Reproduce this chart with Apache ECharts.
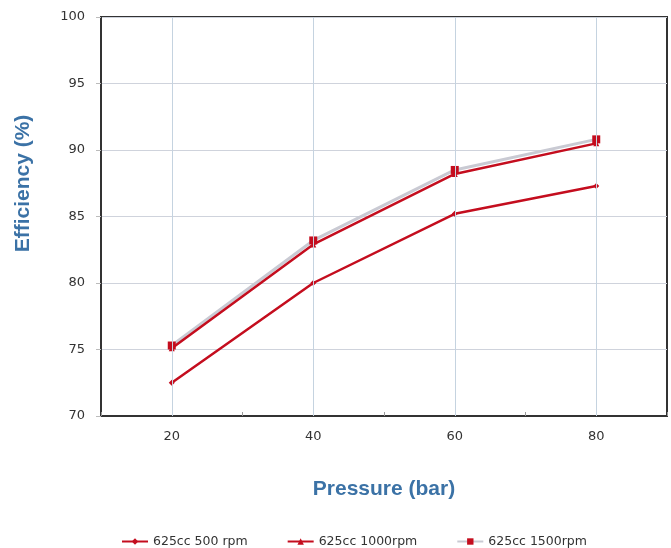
<!DOCTYPE html>
<html>
<head>
<meta charset="utf-8">
<script src="https://cdn.jsdelivr.net/npm/echarts@6/dist/echarts.min.js"></script>
<style>html,body{margin:0;padding:0;background:#fff;}#c{width:671px;height:548px;}</style>
</head>
<body>
<div id="c"></div>
<script>
const pressure = [20, 40, 60, 80];
const rpm500 = [72.5, 80.0, 85.2, 87.3];
const rpm1000 = [75.1, 82.9, 88.2, 90.5];
const rpm1500 = [75.3, 83.2, 88.5, 90.8];
const seriesNames = ['625cc 500 rpm', '625cc 1000rpm', '625cc 1500rpm'];
const xLabels = [20, 40, 60, 80];

const pairs = arr => pressure.map((p, i) => [p, arr[i]]);
const red = '#c40d1e';
const blue = '#3b72a6';

const chart = echarts.init(document.getElementById('c'));
chart.setOption({
  animation: false,
  grid: { left: 101, top: 17, right: 4, bottom: 132, show: true, borderColor: '#333', borderWidth: 2,
    backgroundColor: 'transparent', containLabel: false, outerBoundsMode: 'none' },
  xAxis: {
    type: 'value', min: 10, max: 90, interval: 10,
    name: 'Pressure (bar)', nameLocation: 'middle', nameGap: 63,
    nameTextStyle: { color: blue, fontSize: 21, fontWeight: 'bold', fontFamily: 'Liberation Sans' },
    axisLine: { show: true, lineStyle: { color: '#333', width: 2 } },
    axisTick: { show: true, inside: true, length: 4, lineStyle: { color: '#999' } },
    axisLabel: { color: '#333', fontSize: 13, fontFamily: 'DejaVu Sans', margin: 14,
      formatter: v => xLabels.indexOf(v) >= 0 ? String(v) : '' },
    splitLine: { show: false }
  },
  yAxis: {
    type: 'value', min: 70, max: 100, interval: 5,
    name: 'Efficiency (%)', nameLocation: 'middle', nameGap: 67, nameRotate: 90,
    nameTextStyle: { color: blue, fontSize: 21, fontWeight: 'bold', fontFamily: 'Liberation Sans', padding: [0, 0, 0, 66] },
    axisLine: { show: true, lineStyle: { color: '#333', width: 2 } },
    axisTick: { show: true, length: 5, lineStyle: { color: '#bbb' } },
    axisLabel: { color: '#333', fontSize: 13, fontFamily: 'DejaVu Sans', margin: 16 },
    splitLine: { show: true, lineStyle: { color: '#cfd3dc', width: 1 } }
  },
  legend: {
    top: 530, left: 116, itemGap: 39, itemWidth: 26, itemHeight: 8,
    data: seriesNames,
    textStyle: { color: '#333', fontSize: 12.5, fontFamily: 'DejaVu Sans' }
  },
  series: [
    {
      type: 'line', name: '_grid', data: [], silent: true, z: 1,
      markLine: {
        silent: true, symbol: 'none', label: { show: false },
        lineStyle: { color: '#c5d3e0', width: 1, type: 'solid' },
        data: xLabels.map(v => ({ xAxis: v }))
      }
    },
    {
      type: 'line', name: seriesNames[0], data: pairs(rpm500), z: 3,
      symbol: 'diamond', symbolSize: 6,
      lineStyle: { color: red, width: 2.5 }, itemStyle: { color: red }
    },
    {
      type: 'line', name: seriesNames[2], data: pairs(rpm1500), z: 2,
      symbol: 'rect', symbolSize: 8,
      lineStyle: { color: '#c9cad3', width: 3 }, itemStyle: { color: red }
    },
    {
      type: 'line', name: seriesNames[1], data: pairs(rpm1000), z: 3,
      symbol: 'triangle', symbolSize: 6,
      lineStyle: { color: red, width: 2.5 }, itemStyle: { color: red }
    }
  ]
});
</script>
</body>
</html>
